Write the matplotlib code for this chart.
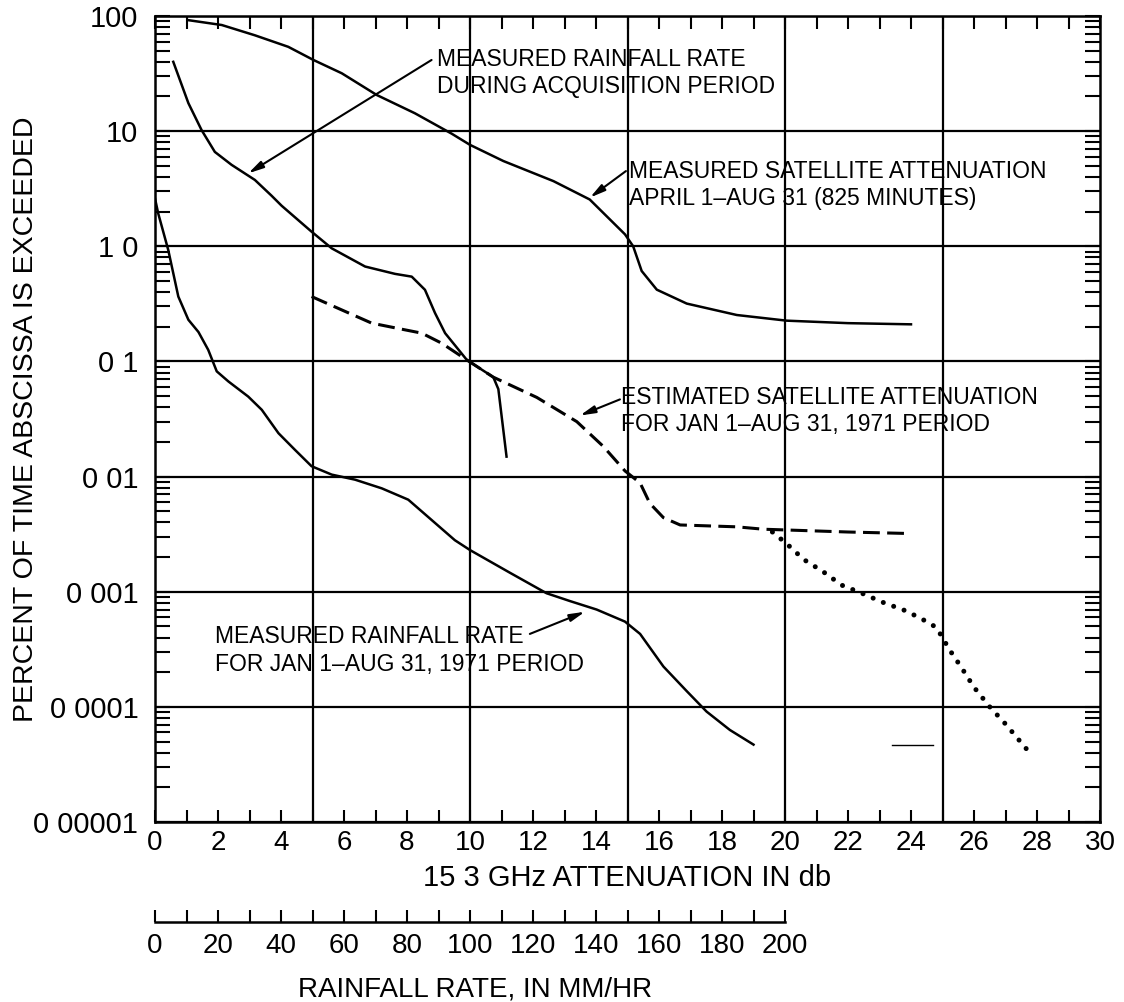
import matplotlib
matplotlib.use("Agg")
import matplotlib.pyplot as plt
import numpy as np
from matplotlib.ticker import MultipleLocator, LogLocator, NullFormatter, FixedLocator

plt.rcParams["font.family"] = ["Liberation Sans", "DejaVu Sans"]

# measured satellite attenuation, April 1 - Aug 31 (solid, top)
sat_meas_db = [1.06, 2.12, 3.17, 4.23, 5.03, 5.93, 7.04, 8.25, 9.42, 10.0, 11.06, 12.65,
               13.8, 14.92, 15.18, 15.45, 15.93, 16.88, 18.47, 20.05, 22.0, 24.0]
sat_meas_pct = [92, 83.5, 68, 54, 41.5, 31.8, 20.6, 14.3, 9.5, 7.6, 5.5, 3.68,
                2.55, 1.27, 1.0, 0.61, 0.42, 0.318, 0.253, 0.226, 0.215, 0.21]

# measured rainfall rate during acquisition period (solid)
rain_acq_db = [0.58, 1.06, 1.48, 1.9, 2.43, 3.17, 3.7, 4.02, 4.97, 5.61, 6.67, 7.62,
               8.15, 8.57, 8.89, 9.21, 9.9, 10.74, 10.9, 11.16]
rain_acq_pct = [40, 17.5, 10.2, 6.6, 5.1, 3.77, 2.75, 2.25, 1.34, 0.96, 0.667, 0.576,
                0.545, 0.419, 0.263, 0.176, 0.103, 0.073, 0.0575, 0.0149]

# estimated satellite attenuation, Jan 1 - Aug 31 1971 (dashed)
sat_est_db = [4.97, 5.93, 6.88, 7.94, 8.47, 9.1, 9.9, 10.74, 12.12, 13.39, 14.23, 14.92,
              15.4, 15.71, 16.14, 16.67, 18.47, 19.31, 22.0, 24.0]
sat_est_pct = [0.366, 0.28, 0.215, 0.188, 0.176, 0.144, 0.103, 0.073, 0.0487, 0.030,
               0.0183, 0.0112, 0.0088, 0.00585, 0.0044, 0.0038, 0.00366, 0.00349,
               0.0033, 0.0032]

# dotted extension
ext_db = [19.6, 20.06, 20.6, 21.2, 21.8, 22.4, 23.1, 23.85, 24.5, 24.8, 25.0,
          25.2, 25.6, 26.0, 26.5, 27.0, 27.7]
ext_pct = [0.0033, 0.0026, 0.0019, 0.0015, 0.00114, 0.00098, 0.00081, 0.00068,
           0.00055, 0.00049, 0.0004, 0.00032, 0.00022, 0.000148, 0.0001, 7.1e-5, 4.2e-5]

# measured rainfall rate, Jan 1 - Aug 31 1971 (solid, bottom)
rain_year_db = [0.0, 0.1, 0.42, 0.74, 1.06, 1.38, 1.69, 1.96, 2.33, 2.96, 3.39, 3.92,
                4.44, 4.97, 5.61, 6.35, 7.2, 8.04, 8.78, 9.52, 10.0, 11.27, 12.43,
                13.17, 14.02, 14.92, 15.4, 16.14, 16.88, 17.51, 18.25, 19.0]
rain_year_pct = [2.6, 1.94, 0.93, 0.366, 0.23, 0.18, 0.126, 0.082, 0.067, 0.0495, 0.038,
                 0.0238, 0.0171, 0.0123, 0.0104, 0.0094, 0.0079, 0.0063, 0.0042, 0.0028,
                 0.0023, 0.00146, 0.00097, 0.00083, 0.0007, 0.00055, 0.00043, 0.000224,
                 0.000137, 9.1e-5, 6.3e-5, 4.7e-5]

# stray short stroke near lower right
stray_db = [23.4, 24.7]
stray_pct = [4.7e-5, 4.7e-5]

y_ticks = [1e-5, 1e-4, 1e-3, 1e-2, 1e-1, 1, 10, 100]
y_ticklabels = ["0 00001", "0 0001", "0 001", "0 01", "0 1", "1 0", "10", "100"]
x_ticks = list(range(0, 31, 2))
grid_x = [5, 10, 15, 20, 25]
rain_ticks = list(range(0, 201, 20))
rain_minor = list(range(10, 200, 20))

fig = plt.figure(figsize=(11.24, 10.02), dpi=100)
ax = fig.add_axes([155 / 1124, 1 - 822 / 1002, 945 / 1124, 806 / 1002])

lw = 1.8
ax.plot(sat_meas_db, sat_meas_pct, color="black", lw=lw)
ax.plot(rain_acq_db, rain_acq_pct, color="black", lw=lw)
ax.plot(sat_est_db, sat_est_pct, color="black", lw=2.2, linestyle=(0, (5.5, 2.4)))
ax.plot(ext_db, ext_pct, color="black", lw=3.6, linestyle=(0, (0.01, 2.2)),
        dash_capstyle="round")
ax.plot(rain_year_db, rain_year_pct, color="black", lw=lw)
ax.plot(stray_db, stray_pct, color="black", lw=1.0)

ax.set_yscale("log")
ax.set_xlim(0, 30)
ax.set_ylim(1e-5, 100)

# grid: vertical every 5 db, horizontal at each decade
for gx in grid_x:
    ax.axvline(gx, color="black", lw=1.6, zorder=1)
ax.set_yticks(y_ticks)
ax.set_yticklabels(y_ticklabels)
ax.yaxis.set_minor_locator(LogLocator(base=10, subs=np.arange(2, 10)))
ax.yaxis.set_minor_formatter(NullFormatter())
ax.grid(axis="y", which="major", color="black", lw=1.6)

ax.set_xticks(x_ticks)
ax.xaxis.set_minor_locator(MultipleLocator(1))

ax.tick_params(axis="x", which="both", direction="in", top=True, length=9, width=1.5,
               labelsize=20, pad=6)
ax.tick_params(axis="y", which="both", direction="in", right=True, length=11, width=1.5,
               labelsize=21, pad=12)
for sp in ax.spines.values():
    sp.set_linewidth(1.8)

ax.set_xlabel("15 3 GHz ATTENUATION IN db", fontsize=21)
ax.xaxis.set_label_coords(0.5, -0.052)
ax.set_ylabel("PERCENT OF TIME ABSCISSA IS EXCEEDED", fontsize=20.5)
ax.yaxis.set_label_coords(-0.123, 0.5)

# rainfall-rate scale below the attenuation axis (10 mm/hr per db)
sec = ax.secondary_xaxis(-0.124, functions=(lambda d: d * 10, lambda r: r / 10))
sec.set_xticks(rain_ticks)
sec.xaxis.set_minor_locator(FixedLocator(rain_minor))
sec.tick_params(which="both", direction="in", length=9, width=1.5, labelsize=20, pad=8)
sec.spines["bottom"].set_bounds(0, 200)
sec.spines["bottom"].set_linewidth(1.8)
sec.set_xlabel("RAINFALL RATE, IN MM/HR", fontsize=20)
sec.xaxis.set_label_coords(0.339, -0.192, transform=ax.transAxes)

# annotations
note_size = 16.5
arrow_kw = dict(arrowstyle="-|>,head_length=0.9,head_width=0.22", color="black",
                lw=1.5, shrinkA=0, shrinkB=0)

ax.text(8.95, 32, "MEASURED RAINFALL RATE\nDURING ACQUISITION PERIOD",
        fontsize=note_size, ha="left", va="center", linespacing=1.25)
ax.annotate("", xy=(2.96, 4.3), xytext=(8.78, 41.5), arrowprops=arrow_kw)

ax.text(15.05, 3.4, "MEASURED SATELLITE ATTENUATION\nAPRIL 1\u2013AUG 31 (825 MINUTES)",
        fontsize=note_size, ha="left", va="center", linespacing=1.25)
ax.annotate("", xy=(13.81, 2.65), xytext=(14.95, 4.5), arrowprops=arrow_kw)

ax.text(14.8, 0.037, "ESTIMATED SATELLITE ATTENUATION\nFOR JAN 1\u2013AUG 31, 1971 PERIOD",
        fontsize=note_size, ha="left", va="center", linespacing=1.25)
ax.annotate("", xy=(13.49, 0.0339), xytext=(14.76, 0.0468), arrowprops=arrow_kw)

ax.text(1.9, 0.00031, "MEASURED RAINFALL RATE\nFOR JAN 1\u2013AUG 31, 1971 PERIOD",
        fontsize=note_size, ha="left", va="center", linespacing=1.25)
ax.annotate("", xy=(13.65, 0.00067), xytext=(11.9, 0.00043), arrowprops=arrow_kw)

fig.savefig("out.png", dpi=100)
